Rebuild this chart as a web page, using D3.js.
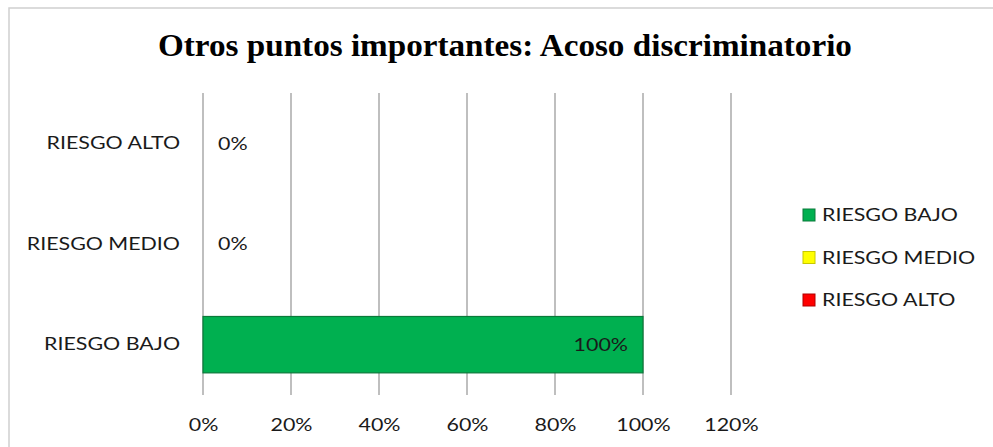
<!DOCTYPE html>
<html>
<head>
<meta charset="utf-8">
<script src="https://cdn.jsdelivr.net/npm/d3@7/dist/d3.min.js"></script>
<style>
  html, body { margin: 0; padding: 0; background: #fff; }
  svg { display: block; }
</style>
</head>
<body>
<svg id="chart" width="993" height="447"></svg>
<script>
// Risk levels, from bottom to top of the chart
const categories = ["RIESGO BAJO", "RIESGO MEDIO", "RIESGO ALTO"];
const values = [1.0, 0.0, 0.0];
const colors = ["#00B050", "#FFFF00", "#FF0000"];
const strokes = ["#0A7A3A", "#C8C800", "#B00000"];
const xTicks = [0, 0.2, 0.4, 0.6, 0.8, 1.0, 1.2];
const title = "Otros puntos importantes: Acoso discriminatorio";

const svg = d3.select("#chart");
const labelFont = "Lato, 'Open Sans', sans-serif";
const labelSize = 18;
const sx = 1.19;          // horizontal stretch for label text
const textCol = "#1a1a1a";

// Draws text stretched horizontally around its anchor x
function stretched(sel, xPos, s = sx) {
  return sel.attr("x", xPos / s).attr("transform", `scale(${s},1)`);
}

// Chart frame
svg.append("rect")
  .attr("x", 9).attr("y", 8).attr("width", 1000).attr("height", 460)
  .attr("fill", "#fff").attr("stroke", "#D0D0D0").attr("stroke-width", 1.5);

stretched(svg.append("text"), 505, 1.07)
  .attr("y", 56)
  .attr("text-anchor", "middle")
  .attr("font-family", "'Liberation Serif', 'Times New Roman', serif")
  .attr("font-weight", "bold")
  .attr("font-size", 31)
  .attr("fill", "#000")
  .text(title);

const plot = { left: 203, right: 731, top: 93, bottom: 395 };

const x = d3.scaleLinear().domain([0, 1.2]).range([plot.left, plot.right]);
const y = d3.scaleBand()
  .domain(categories.slice().reverse())
  .range([plot.top, plot.bottom])
  .paddingInner(0.44).paddingOuter(0.22);

// Vertical gridlines
svg.append("g").selectAll("line")
  .data(xTicks)
  .join("line")
  .attr("x1", d => x(d)).attr("x2", d => x(d))
  .attr("y1", plot.top).attr("y2", plot.bottom)
  .attr("stroke", "#BFBFBF").attr("stroke-width", 2);

// X axis labels
const xAxis = d3.axisBottom(x).tickValues(xTicks).tickFormat(d3.format(".0%")).tickSize(0).tickPadding(23);
const gx = svg.append("g").attr("transform", `translate(0,${plot.bottom})`).call(xAxis);
gx.select(".domain").remove();
gx.selectAll("text")
  .attr("font-family", labelFont).attr("font-size", labelSize).attr("fill", textCol)
  .attr("transform", `scale(${sx},1)`);

// Category labels
const yAxis = d3.axisLeft(y).tickSize(0).tickPadding(23);
const gy = svg.append("g").attr("transform", `translate(${plot.left},0)`).call(yAxis);
gy.select(".domain").remove();
gy.selectAll("text")
  .attr("font-family", labelFont).attr("font-size", labelSize).attr("fill", textCol)
  .attr("x", -23 / sx).attr("transform", `scale(${sx},1)`);

// Bars
svg.append("g").selectAll("rect")
  .data(categories)
  .join("rect")
  .attr("x", x(0))
  .attr("y", d => y(d))
  .attr("width", (d, i) => x(values[i]) - x(0))
  .attr("height", y.bandwidth())
  .attr("fill", (d, i) => colors[i])
  .attr("stroke", (d, i) => values[i] > 0 ? strokes[i] : "none")
  .attr("stroke-width", 1.2);

// Value labels
const fmt = d3.format(".0%");
svg.append("g").selectAll("text")
  .data(categories)
  .join("text")
  .each(function (d, i) {
    const xPos = values[i] > 0 ? x(values[i]) - 15 : x(values[i]) + 15;
    stretched(d3.select(this), xPos);
  })
  .attr("y", d => y(d) + y.bandwidth() / 2)
  .attr("dy", "0.35em")
  .attr("text-anchor", (d, i) => values[i] > 0 ? "end" : "start")
  .attr("font-family", labelFont).attr("font-size", labelSize).attr("fill", textCol)
  .text((d, i) => fmt(values[i]));

// Legend
const legend = svg.append("g").attr("transform", "translate(803,215)");
const items = legend.selectAll("g")
  .data(categories)
  .join("g")
  .attr("transform", (d, i) => `translate(0,${i * 42.5})`);
items.append("rect")
  .attr("x", 0).attr("y", -6).attr("width", 12).attr("height", 12)
  .attr("fill", (d, i) => colors[i])
  .attr("stroke", (d, i) => strokes[i]).attr("stroke-width", 1);
stretched(items.append("text"), 19)
  .attr("y", 0).attr("dy", "0.35em")
  .attr("font-family", labelFont).attr("font-size", labelSize).attr("fill", textCol)
  .text(d => d);
</script>
</body>
</html>
